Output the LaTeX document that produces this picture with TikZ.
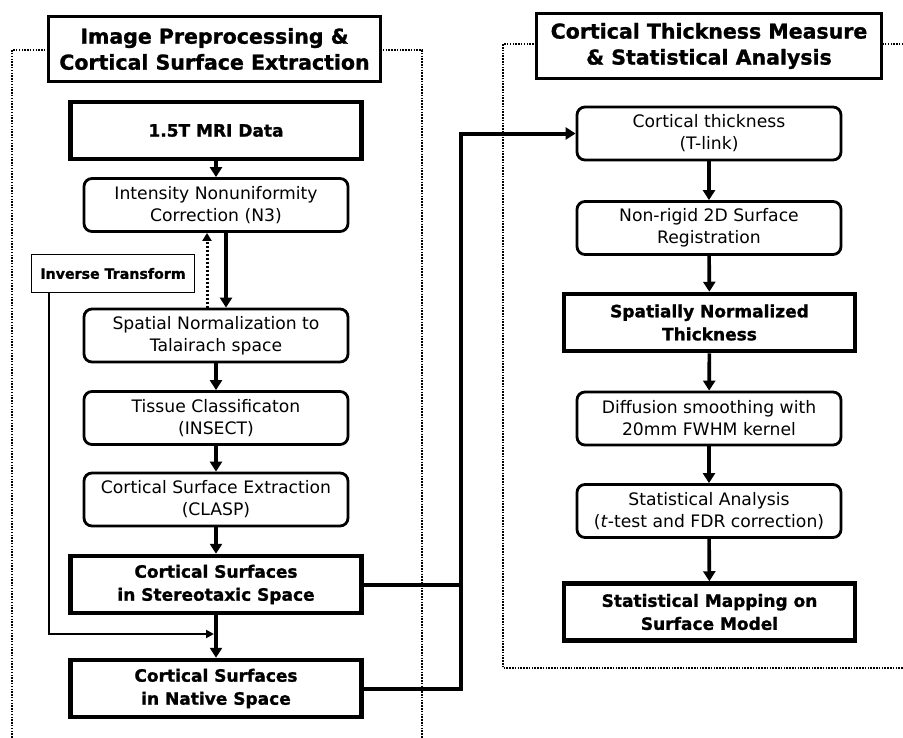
\documentclass[tikz,border=0pt]{standalone}
\usepackage{fontspec}
\setmainfont{DejaVu Sans}[BoldFeatures={FakeBold=1.2}]
\usetikzlibrary{arrows.meta}

\begin{document}
\begin{tikzpicture}[x=1pt,y=-1pt,
  every node/.style={align=center,inner sep=0pt},
  stage/.style={draw,rounded corners=8pt,line width=2.8pt,minimum width=264pt,minimum height=53pt,font=\fontsize{17.2}{22}\selectfont},
  result/.style={draw,line width=4.5pt,minimum width=291pt,minimum height=57pt,font=\fontsize{17}{23}\selectfont\bfseries},
  header/.style={draw,fill=white,line width=3.3pt,minimum height=65pt,font=\fontsize{20.5}{26}\selectfont\bfseries},
  arr/.style={line width=3.6pt,-{Triangle[length=10pt,width=12pt]}},
  frame/.style={line width=2.6pt,dash pattern=on 1.5pt off 1.3pt}]

\useasboundingbox (0,0) rectangle (903,737);

\draw[frame] (12,760)--(12,50)--(422,50)--(422,760);
\draw[frame] (920,44)--(503,44)--(503,668)--(920,668);

\node[header,minimum width=332pt] (headL) at (214.5,49) {Image Preprocessing \&\\Cortical Surface Extraction};
\node[header,minimum width=345pt] (headR) at (709,46) {Cortical Thickness Measure\\\& Statistical Analysis};

% left column
\node[result] (mri) at (216,130.5) {1.5T MRI Data};
\node[stage] (inu) at (216,205) {Intensity Nonuniformity\\Correction (N3)};
\node[stage] (spn) at (216,335.5) {Spatial Normalization to\\Talairach space};
\node[stage] (tis) at (216,418) {Tissue Classificaton\\(INSECT)};
\node[stage] (cse) at (216,499.5) {Cortical Surface Extraction\\(CLASP)};
\node[result] (ster) at (216,584.5) {Cortical Surfaces\\in Stereotaxic Space};
\node[result] (nat) at (216,688.5) {Cortical Surfaces\\in Native Space};
\node[draw,line width=1.6pt,minimum width=163pt,minimum height=38pt,font=\fontsize{14.2}{16}\selectfont\bfseries] (inv) at (113,273.5) {Inverse Transform};

% right column
\node[stage] (ct) at (709,133.5) {Cortical thickness\\(T-link)};
\node[stage] (reg) at (709,228) {Non-rigid 2D Surface\\Registration};
\node[result] (snt) at (709.5,322.5) {Spatially Normalized\\Thickness};
\node[stage] (dif) at (709,418.5) {Diffusion smoothing with\\20mm FWHM kernel};
\node[stage] (sta) at (709,511) {Statistical Analysis\\(\textit{t}-test and FDR correction)};
\node[result] (map) at (709.5,612) {Statistical Mapping on\\Surface Model};

\coordinate (bus) at (461,0);
\coordinate (join) at (216,634);

\draw[arr] (mri) -- (inu);
\draw[arr] ([xshift=10pt]inu.south) -- ([xshift=10pt]spn.north);
\draw[line width=3pt,dash pattern=on 2pt off 2pt,-{Triangle[length=8pt,width=9pt]}] ([xshift=-9pt]spn.north) -- ([xshift=-9pt]inu.south);
\draw[arr] (spn) -- (tis);
\draw[arr] (tis) -- (cse);
\draw[arr] (cse) -- (ster);
\draw[arr] (ster) -- (nat);
\draw[line width=2pt,-{Triangle[length=8pt,width=8pt]},shorten >=2pt] (inv.south -| 49,0) |- (join);

\draw[line width=4pt] (ster.east) -- (ster.east -| bus);
\draw[arr,line width=4pt] (nat.east) -| (bus |- ct.west) -- (ct.west);

\draw[arr] (ct) -- (reg);
\draw[arr] (reg) -- (snt);
\draw[arr] (snt) -- (dif);
\draw[arr] (dif) -- (sta);
\draw[arr] (sta) -- (map);
\end{tikzpicture}
\end{document}
